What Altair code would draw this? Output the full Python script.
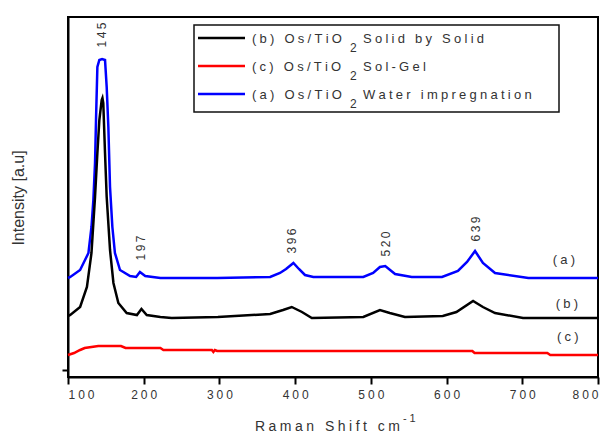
import altair as alt
import pandas as pd

# Raman spectra of the three Os/TiO2 samples (shift in cm^-1, intensity in a.u.)
shift_a = [100, 103, 116, 127, 131, 133.5, 135.7, 137, 138.8, 141.4, 145, 148.9, 151.1,
           153.3, 155.5, 158.6, 162, 168.7, 182, 190, 195, 202, 222, 297, 367, 380, 388,
           397.7, 405, 413, 424, 490, 503, 512, 519, 532, 554, 594, 615, 627, 637.6, 648,
           664, 708, 800]
int_a = [99, 100, 107, 124, 150, 177, 214, 257, 310, 317, 318, 317, 290, 250, 190, 150,
         124, 107, 101, 100, 105, 101, 99, 99, 100, 104, 108, 114, 108, 102, 100, 100, 104,
         110, 111, 103, 100, 100, 106, 115, 126, 114, 104, 99, 99]

shift_b = [100, 103, 116, 125, 131, 135.7, 138.8, 141.4, 144.5, 145.5, 146.6, 148.9, 151.1,
           155.5, 160, 166.5, 177.5, 191, 197, 204, 222, 237, 298, 367, 384, 395.5, 409, 422,
           490, 512, 525, 545, 595, 613, 635, 648, 664, 701, 800]
int_b = [61, 62, 70, 90, 124, 180, 224, 257, 277, 279, 274, 224, 180, 127, 94, 74, 64, 62,
         68, 62, 60, 59, 60, 63, 67, 70, 65, 59, 60, 67, 64, 60, 61, 65, 76, 70, 64, 59, 59]

shift_c = [100, 108, 116, 122, 140, 170, 176, 222, 226, 290, 292, 294, 297, 634, 637, 733, 737, 800]
int_c = [22, 24, 27, 29, 31, 31, 29, 29, 27, 27, 25, 27, 26, 26, 24, 24, 22, 22]

# Band positions and the height where each band label sits
peak_shift = [145, 197, 396, 520, 639]
peak_label_height = [342, 129, 136, 133, 148]

# Curve tags at the right-hand side
tag_text = ["(a)", "(b)", "(c)"]
tag_shift = [755, 759, 760]
tag_height = [117, 73, 40]

# Legend entries, in legend order
legend_tags = ["(b)", "(c)", "(a)"]
legend_methods = ["Solid by Solid", "Sol-Gel", "Water impregnation"]
legend_colors = ["#000000", "#ff0000", "#0000ff"]

FONT = "Liberation Sans"
TEXT = "#333333"
GAP = "\u2005"


def spaced(s):
    return GAP.join(s)


x_enc = alt.X(
    "shift:Q",
    scale=alt.Scale(domain=[100, 800], nice=False, zero=False),
    axis=alt.Axis(
        values=list(range(100, 801, 50)),
        labelExpr="datum.value % 100 === 0 ? join(split(datum.label, ''), '" + GAP + "') : ''",
        tickSize={"condition": {"test": "datum.value % 100 === 0", "value": 7}, "value": 4},
        tickWidth=2, tickColor="black", domainColor="black", domainWidth=2,
        labelFont=FONT, labelFontSize=12, labelColor=TEXT, labelPadding=5,
        grid=False, title=None,
    ),
)
y_enc = alt.Y(
    "intensity:Q",
    scale=alt.Scale(domain=[0, 360], nice=False, zero=False),
    axis=alt.Axis(values=[7], labels=False, tickSize=6, tickWidth=2, tickColor="black",
                  domainColor="black", domainWidth=2, grid=False, title=None),
)


def curve(xs, ys, color):
    df = pd.DataFrame({"shift": xs, "intensity": ys})
    return alt.Chart(df).mark_line(color=color, strokeWidth=2.5).encode(x=x_enc, y=y_enc)


layers = [
    curve(shift_a, int_a, "#0000ff"),
    curve(shift_c, int_c, "#ff0000"),
    curve(shift_b, int_b, "#000000"),
]

peaks = pd.DataFrame({
    "shift": peak_shift,
    "intensity": peak_label_height,
    "label": ["\u2009".join(str(p)) for p in peak_shift],
})
layers.append(
    alt.Chart(peaks).mark_text(angle=270, font=FONT, fontSize=12, color=TEXT,
                               align="center", baseline="middle")
    .encode(x="shift:Q", y="intensity:Q", text="label:N")
)

tags = pd.DataFrame({
    "shift": tag_shift,
    "intensity": tag_height,
    "label": [spaced(t) for t in tag_text],
})
layers.append(
    alt.Chart(tags).mark_text(font=FONT, fontSize=13, color=TEXT, align="center",
                              baseline="middle")
    .encode(x="shift:Q", y="intensity:Q", text="label:N")
)


def label(text, x, y, **kw):
    style = dict(font=FONT, fontSize=13, color=TEXT, align="left", baseline="middle")
    style.update(kw)
    return alt.Chart(pd.DataFrame({"t": [text]})).mark_text(**style).encode(
        text="t:N", x=alt.value(x), y=alt.value(y))


# Legend box with line samples and labels
layers.append(
    alt.Chart(pd.DataFrame({"k": [0]})).mark_rect(fill="white", stroke="#111111",
                                                  strokeWidth=1.5)
    .encode(x=alt.value(126), x2=alt.value(491), y=alt.value(8), y2=alt.value(95))
)
for i, (tag, method, color) in enumerate(zip(legend_tags, legend_methods, legend_colors)):
    row = 21 + 28 * i
    layers.append(
        alt.Chart(pd.DataFrame({"k": [0]})).mark_rule(color=color, strokeWidth=2.5)
        .encode(x=alt.value(130), x2=alt.value(177), y=alt.value(row))
    )
    layers.append(label(spaced(tag + " Os/TiO"), 184, row + 1))
    layers.append(label("2", 282, row + 10, fontSize=12))
    layers.append(label(spaced(method), 295, row + 1))

# Axis titles
layers.append(label(spaced("Raman Shift cm"), 332, 410, align="right", fontSize=14))
layers.append(label(spaced("-1"), 335, 402, fontSize=11))
layers.append(label("Intensity [a.u]", -49, 181, align="center", angle=270, fontSize=16))

chart = (
    alt.layer(*layers)
    .properties(
        width=530, height=360,
        autosize=alt.AutoSizeParams(type="none"),
        padding={"left": 68, "top": 17, "right": 13, "bottom": 59},
    )
    .configure_view(stroke="black", strokeWidth=2)
)

chart.save("out.html", embed_options={"renderer": "svg", "actions": False})
